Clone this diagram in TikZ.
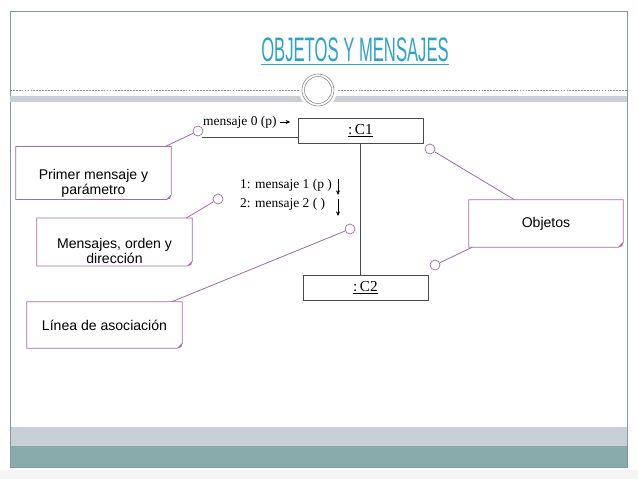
\documentclass[tikz,border=0pt]{standalone}
\usepackage{fontspec}
\setmainfont{Liberation Serif}
\newfontfamily\notefont{Liberation Sans}
\usetikzlibrary{arrows.meta}
\definecolor{notepurple}{HTML}{A070A2}
\definecolor{titleblue}{HTML}{2EA3CA}
\definecolor{frameline}{HTML}{8399A0}
\definecolor{bandgrey}{HTML}{C6D0D5}
\definecolor{bandteal}{HTML}{8AABAC}
\definecolor{umlgrey}{HTML}{4A4A4A}

% outline of a note with a turned-down corner
\newcommand{\notefold}[1]{%
  \draw[noteline] (#1.north west) -- (#1.north east) -- ([yshift=4]#1.south east)
    -- ([xshift=-4]#1.south east) -- (#1.south west) -- cycle;
  \fill[notepurple] ([yshift=4]#1.south east) -- ([xshift=-4]#1.south east)
    -- ([shift={(-1,-1)}]#1.south east) -- cycle;
}

\begin{document}
\begin{tikzpicture}[x=0.03cm, y=-0.03cm,
  notebox/.style={minimum width=4.65cm, minimum height=1.38cm, align=center,
    font=\notefont\fontsize{12}{12.5}\selectfont, inner sep=2pt},
  noteline/.style={draw=notepurple, line width=0.7pt},
  callout/.style={circle, draw=notepurple, fill=white, line width=0.6pt, minimum size=0.3cm, inner sep=0pt},
  objbox/.style={draw=umlgrey, line width=0.8pt, minimum width=3.75cm, minimum height=0.75cm,
    font=\fontsize{13}{14}\selectfont},
  msg/.style={anchor=west, font=\fontsize{11.5}{14}\selectfont, inner sep=0pt},
  flow/.style={umlgrey, line width=0.8pt},
  tip/.style={-{Stealth[length=4pt,width=3.5pt]}, black, line width=0.8pt},
]
\useasboundingbox (0,0) rectangle (638,479);

% -- slide frame --
\fill[black!4] (0,470) rectangle (638,479);
\fill[bandgrey] (10,427) rectangle (627,446);
\fill[bandteal] (10,446) rectangle (627,467);
\draw[frameline, line width=0.8pt] (10,11) rectangle (627,467);
\draw[black!45, line width=0.4pt, dash pattern=on 1.5pt off 1pt] (10,90) -- (627,90);
\fill[bandgrey] (10,96) rectangle (627,102);
\fill[white] (318,90) circle[radius=19];
\draw[black!45, line width=0.5pt] (318,90) circle[radius=16];
\draw[black!45, line width=0.5pt] (318,90) circle[radius=13.5];

% -- title --
\node[inner sep=0pt, anchor=south, text=titleblue] (title) at (355,62)
  {\scalebox{0.49}[1]{\notefont\fontsize{29}{29}\selectfont OBJETOS Y MENSAJES}};
\draw[titleblue, line width=1.3pt] ([yshift=-2]title.south west) -- ([yshift=-2]title.south east);

% -- objects --
\node[objbox] (c1) at (360.5,130.5) {\underline{:\,C1}};
\node[objbox] (c2) at (365.5,287.5) {\underline{:\,C2}};
\draw[flow] (c1.south) -- (c1.south |- c2.north);

% -- messages --
\node[msg] (m0) at (203,122) {mensaje 0 (p)};
\draw[tip] ([xshift=3]m0.east) -- ++(10,0);
\coordinate (m0start) at (202,137);
\draw[flow] (m0start) -- (m0start -| c1.west);

\node[msg] (m1) at (240,185) {1: mensaje 1 (p )};
\node[msg] (m2) at (240,204) {2: mensaje 2 ( )};
\coordinate (a1) at (338,179);
\coordinate (a2) at (338,199);
\draw[tip] (a1) -- ++(0,16);
\draw[tip] (a2) -- ++(0,17);

% -- notes --
\node[notebox] (prim) at (93.5,173) {\rule{0pt}{26pt}Primer mensaje y\\par\'ametro};
\node[notebox] (orden) at (114.5,242) {\rule{0pt}{24pt}Mensajes, orden y\\direcci\'on};
\node[notebox] (linea) at (104.5,325) {L\'inea de asociaci\'on};
\node[notebox, minimum width=4.62cm, minimum height=1.41cm] (obj) at (546,223.5) {Objetos};
\notefold{prim}
\notefold{orden}
\notefold{linea}
\notefold{obj}

% -- callouts --
\node[callout] (kprim) at (198,131) {};
\node[callout] (korden) at (218,199) {};
\node[callout] (klinea) at (350,229) {};
\node[callout] (kobj1) at (430,149) {};
\node[callout] (kobj2) at (435,265) {};

\draw[noteline] ([xshift=-5]prim.north east) -- (kprim);
\draw[noteline] ([xshift=-5]orden.north east) -- (korden);
\draw[noteline] ([xshift=-9]linea.north east) -- (klinea);
\draw[noteline] ([xshift=39]obj.north west) -- (kobj1);
\draw[noteline] ([xshift=3]obj.south west) -- (kobj2);

\end{tikzpicture}
\end{document}
